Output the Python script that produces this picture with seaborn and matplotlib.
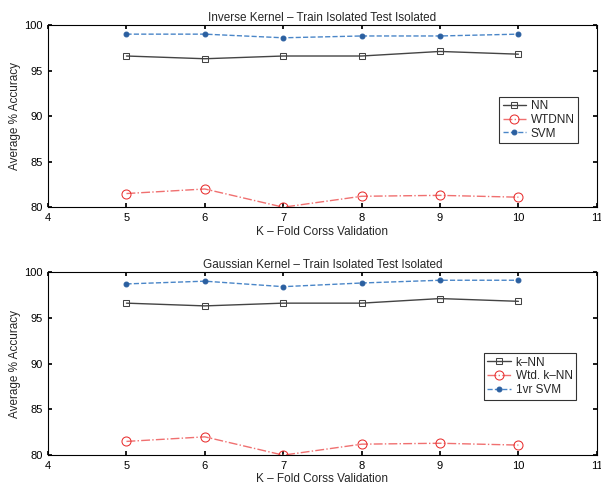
import matplotlib
matplotlib.use("Agg")
import matplotlib.pyplot as plt
import seaborn as sns
import pandas as pd

k_folds = [5, 6, 7, 8, 9, 10]

inv_nn = [96.6, 96.3, 96.6, 96.6, 97.1, 96.8]
inv_wtdnn = [81.5, 82.0, 80.0, 81.2, 81.3, 81.1]
inv_svm = [99.0, 99.0, 98.6, 98.8, 98.8, 99.0]

gau_nn = [96.6, 96.3, 96.6, 96.6, 97.1, 96.8]
gau_wtdnn = [81.5, 82.0, 80.0, 81.2, 81.3, 81.1]
gau_svm = [98.7, 99.0, 98.4, 98.8, 99.1, 99.1]

top_labels = ["NN", "WTDNN", "SVM"]
bot_labels = ["k\u2013NN", "Wtd. k\u2013NN", "1vr SVM"]
titles = ["Inverse Kernel \u2013 Train Isolated Test Isolated",
          "Gaussian Kernel \u2013 Train Isolated Test Isolated"]
xlabel = "K \u2013 Fold Corss Validation"
ylabel = "Average % Accuracy"
xticks = [4, 5, 6, 7, 8, 9, 10, 11]
yticks = [80, 85, 90, 95, 100]

sns.set_theme(style="white")
plt.rcParams['font.family'] = ['Liberation Sans', 'DejaVu Sans']

fig = plt.figure(figsize=(6.01, 4.91), dpi=100)
ax1 = fig.add_axes([0.080, 0.578, 0.913, 0.371])
ax2 = fig.add_axes([0.080, 0.073, 0.913, 0.373])

styles = [
    dict(color="#444444", linestyle="-", marker="s", markersize=5,
         markerfacecolor="none", markeredgecolor="#444444", linewidth=1.0),
    dict(color="#f07070", linestyle="-.", marker="o", markersize=6.5,
         markerfacecolor="none", markeredgecolor="#e83030", linewidth=1.0),
    dict(color="#4a86c8", linestyle="--", marker="o", markersize=3.5,
         markerfacecolor="#2a5fa0", markeredgecolor="#2a5fa0", linewidth=1.0),
]

def panel(ax, series, labels, title, legend_anchor):
    for vals, lab, st in zip(series, labels, styles):
        df = pd.DataFrame({"k": k_folds, "acc": vals})
        sns.lineplot(data=df, x="k", y="acc", ax=ax, label=lab, **st)
    ax.set_xlim(4, 11)
    ax.set_ylim(80, 100)
    ax.set_xticks(xticks)
    ax.set_yticks(yticks)
    ax.tick_params(direction="in", length=3, labelsize=8, colors="black",
                   top=True, right=True, bottom=True, left=True, pad=4)
    for s in ax.spines.values():
        s.set_color("black")
        s.set_linewidth(0.8)
    ax.set_title(title, fontsize=8.5, pad=3)
    ax.set_xlabel(xlabel, fontsize=8.5, labelpad=2)
    ax.set_ylabel(ylabel, fontsize=8.5, labelpad=2)
    leg = ax.legend(loc="upper left", bbox_to_anchor=legend_anchor, fontsize=8.5,
                    frameon=True, fancybox=False, edgecolor="black",
                    handlelength=2.0, handletextpad=0.4, borderpad=0.3,
                    labelspacing=0.15)
    leg.get_frame().set_linewidth(0.8)

panel(ax1, [inv_nn, inv_wtdnn, inv_svm], top_labels, titles[0], (0.811, 0.64))
panel(ax2, [gau_nn, gau_wtdnn, gau_svm], bot_labels, titles[1], (0.783, 0.59))

fig.savefig("out.png", dpi=100)
